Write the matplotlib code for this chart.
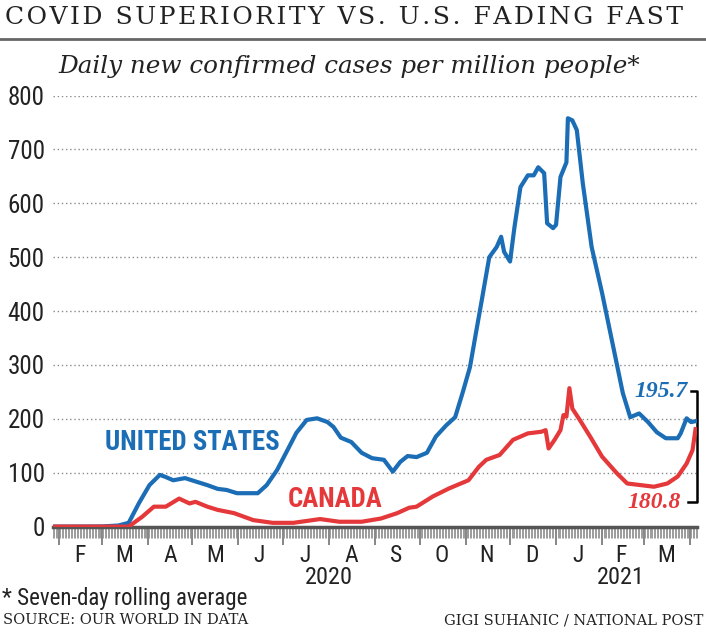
import matplotlib
matplotlib.use("Agg")
import matplotlib.pyplot as plt
import matplotlib.dates as mdates
import matplotlib.transforms as mtransforms
from matplotlib import font_manager as fm
import pandas as pd

us_dates = ["2020-01-28", "2020-03-01", "2020-03-12", "2020-03-19", "2020-03-26", "2020-04-02",
            "2020-04-09", "2020-04-13", "2020-04-18", "2020-04-26", "2020-05-04", "2020-05-11",
            "2020-05-18", "2020-05-24", "2020-05-31", "2020-06-14", "2020-06-20", "2020-06-27",
            "2020-07-04", "2020-07-10", "2020-07-17", "2020-07-24", "2020-07-31", "2020-08-04",
            "2020-08-09", "2020-08-16", "2020-08-23", "2020-08-30", "2020-09-07", "2020-09-13",
            "2020-09-18", "2020-09-23", "2020-09-29", "2020-10-06", "2020-10-12", "2020-10-19",
            "2020-10-25", "2020-10-30", "2020-11-04", "2020-11-08", "2020-11-12", "2020-11-17",
            "2020-11-22", "2020-11-25", "2020-11-27", "2020-12-01", "2020-12-04", "2020-12-08",
            "2020-12-13", "2020-12-17", "2020-12-20", "2020-12-24", "2020-12-26", "2020-12-30",
            "2021-01-01", "2021-01-04", "2021-01-08", "2021-01-09", "2021-01-12", "2021-01-15",
            "2021-01-19", "2021-01-25", "2021-02-01", "2021-02-08", "2021-02-15", "2021-02-20",
            "2021-02-26", "2021-03-04", "2021-03-10", "2021-03-16", "2021-03-24", "2021-03-26",
            "2021-03-30", "2021-04-02", "2021-04-05"]
us_values = [0, 0.3, 2, 7, 44, 77,
             96, 92, 86, 90, 83, 77,
             70, 68, 62, 62, 77, 105,
             142, 174, 198, 201, 194, 185,
             165, 157, 137, 127, 124, 102,
             120, 131, 129, 137, 167, 188,
             203, 248, 296, 359, 421, 500,
             519, 538, 510, 492, 556, 630,
             652, 652, 667, 656, 563, 554,
             560, 649, 676, 758, 754, 736,
             638, 519, 434, 341, 248, 203,
             210, 194, 175, 164, 164, 173,
             201, 194, 195.7]

ca_dates = ["2020-01-28", "2020-03-19", "2020-03-28", "2020-04-05", "2020-04-13", "2020-04-22",
            "2020-04-29", "2020-05-03", "2020-05-11", "2020-05-18", "2020-05-29", "2020-06-11",
            "2020-06-24", "2020-07-08", "2020-07-26", "2020-08-08", "2020-08-23", "2020-09-05",
            "2020-09-16", "2020-09-24", "2020-09-29", "2020-10-10", "2020-10-21", "2020-11-03",
            "2020-11-10", "2020-11-15", "2020-11-24", "2020-12-03", "2020-12-13", "2020-12-22",
            "2020-12-25", "2020-12-27", "2020-12-31", "2021-01-04", "2021-01-06", "2021-01-08",
            "2021-01-10", "2021-01-12", "2021-01-17", "2021-01-24", "2021-02-01", "2021-02-11",
            "2021-02-18", "2021-02-27", "2021-03-08", "2021-03-17", "2021-03-24", "2021-03-30",
            "2021-04-03", "2021-04-05"]
ca_values = [0, 0, 18, 37, 37, 52,
             43, 46, 37, 31, 25, 12,
             7, 7, 14, 9, 9, 15,
             25, 35, 37, 56, 71, 86,
             111, 124, 133, 161, 173, 176,
             179, 145, 161, 179, 207, 204,
             257, 219, 198, 167, 130, 99,
             80, 77, 74, 80, 93, 117,
             142, 180.8]

month_labels = ["F", "M", "A", "M", "J", "J", "A", "S", "O", "N", "D", "J", "F", "M"]
month_mids = ["2020-02-15", "2020-03-16", "2020-04-16", "2020-05-16", "2020-06-15", "2020-07-16",
              "2020-08-16", "2020-09-15", "2020-10-16", "2020-11-15", "2020-12-16", "2021-01-16",
              "2021-02-14", "2021-03-16"]
year_labels = ["2020", "2021"]
year_pos = ["2020-08-01", "2021-02-14"]
y_ticks = [0, 100, 200, 300, 400, 500, 600, 700, 800]

blue = "#1b6db5"
red = "#e5383b"

# look for a narrow sans face, otherwise fall back to something compact
names = {f.name for f in fm.fontManager.ttflist}
narrow_kw = {"family": ["Roboto", "DejaVu Sans"]}
for cand in ["Liberation Sans Narrow", "Roboto Condensed", "Open Sans Condensed", "DejaVu Sans Condensed"]:
    if cand in names:
        narrow_kw = {"family": [cand, "DejaVu Sans"]}
        break
else:
    for f in fm.fontManager.ttflist:
        if f.name in ("DejaVu Sans", "Open Sans", "Roboto") and str(f.stretch) in ("condensed", "semi-condensed", "75", "87.5"):
            narrow_kw = {"family": [f.name, "DejaVu Sans"], "stretch": "condensed"}
            break
serif = ["DejaVu Serif"]
times = ["Liberation Serif", "DejaVu Serif"]

fig = plt.figure(figsize=(7.06, 6.36), dpi=100)
ax = fig.add_axes([53 / 706, 1 - 526.6 / 636, 644 / 706, 431 / 636])

ax.plot(pd.to_datetime(us_dates), us_values, color=blue, lw=3, solid_joinstyle="round", zorder=4)
ax.plot(pd.to_datetime(ca_dates), ca_values, color=red, lw=3, solid_joinstyle="round", zorder=4)

ax.set_xlim(pd.Timestamp("2020-01-28"), pd.Timestamp("2021-04-06"))
ax.set_ylim(0, 800)

for v in y_ticks[1:]:
    ax.axhline(v, color="#8a8a8a", lw=1, ls=(0, (1, 2)), zorder=1)

ax.set_yticks(y_ticks)
ax.set_yticklabels([str(v) for v in y_ticks], fontsize=18, color="#222222", **narrow_kw)
ax.tick_params(axis="y", length=0, pad=6)

ax.xaxis.set_major_locator(mdates.MonthLocator())
ax.xaxis.set_minor_locator(mdates.DayLocator())
ax.xaxis.set_major_formatter(plt.NullFormatter())
ax.tick_params(axis="x", which="major", length=13, width=1.1, color="#666666")
ax.tick_params(axis="x", which="minor", length=8, width=0.6, color="#8c8c8c")

for s in ["top", "right", "left"]:
    ax.spines[s].set_visible(False)
ax.spines["bottom"].set_color("#555555")
ax.spines["bottom"].set_linewidth(2.5)
ax.spines["bottom"].set_zorder(3)

trans = mtransforms.blended_transform_factory(ax.transData, ax.transAxes)
for lab, d in zip(month_labels, month_mids):
    ax.text(pd.Timestamp(d), -0.068, lab, transform=trans, ha="center", va="center",
            fontsize=17, color="#222222", **narrow_kw)
for lab, d in zip(year_labels, year_pos):
    ax.text(pd.Timestamp(d), -0.119, lab, transform=trans, ha="center", va="center",
            fontsize=17.5, color="#222222", **narrow_kw)

ax.text(pd.Timestamp("2020-05-01"), 157, "UNITED STATES", ha="center", va="center",
        fontweight="bold", fontsize=19.3, color=blue, **narrow_kw)
ax.text(pd.Timestamp("2020-08-05"), 51, "CANADA", ha="center", va="center",
        fontweight="bold", fontsize=19.3, color=red, **narrow_kw)

ax.text(pd.Timestamp("2021-03-31"), 250, "195.7", ha="right", va="center",
        family=times, style="italic", fontweight="bold", fontsize=17, color=blue)
ax.text(pd.Timestamp("2021-03-26"), 44, "180.8", ha="right", va="center",
        family=times, style="italic", fontweight="bold", fontsize=17, color=red)
bx = pd.to_datetime(["2021-04-02", "2021-04-06", "2021-04-06", "2021-03-31"])
ax.plot(bx, [251, 251, 45, 45], color="black", lw=1.8, clip_on=False, zorder=2)

title = "COVID SUPERIORITY VS. U.S. FADING FAST"
fig.text(5 / 706, 1 - 18 / 636, "\u200a".join(title), ha="left", va="center",
         family=serif, fontsize=18, color="#222222")
fig.add_artist(plt.Line2D([0, 1], [1 - 39 / 636, 1 - 39 / 636], color="#666666", lw=2))
fig.text(349 / 706, 1 - 66 / 636, "Daily new confirmed cases per million people*", ha="center",
         va="center", family=serif, style="italic", fontsize=17.7, color="#222222")

fig.text(2 / 706, 1 - 598 / 636, "* Seven-day rolling average", ha="left", va="center",
         fontsize=16.5, color="#222222", **narrow_kw)
fig.text(3 / 706, 1 - 620 / 636, "SOURCE: OUR WORLD IN DATA", ha="left", va="center",
         family=serif, fontsize=10.5, color="#222222")
fig.text(703 / 706, 1 - 620 / 636, "GIGI SUHANIC / NATIONAL POST", ha="right", va="center",
         family=serif, fontsize=10.5, color="#222222")

fig.savefig("out.png", dpi=100)
